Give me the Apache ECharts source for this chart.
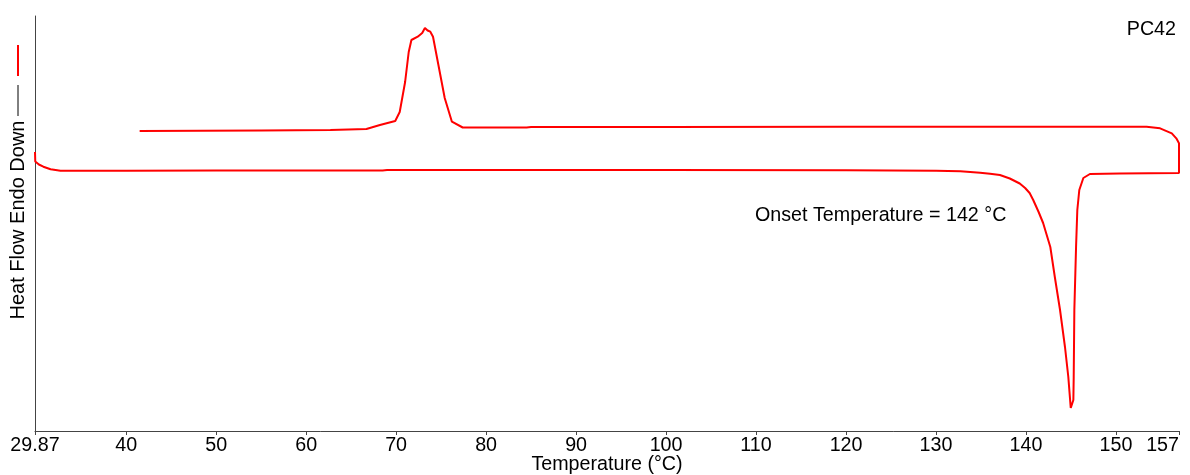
<!DOCTYPE html>
<html lang="en">

<head>
    <meta charset="UTF-8">
    <title>PC42 DSC</title>
    <script src="https://cdnjs.cloudflare.com/ajax/libs/echarts/6.0.0/echarts.min.js"></script>
    <style>
        body { margin: 0; background: #fff; }
    </style>
</head>

<body>
    <div id="main" style="width: 1190px;height:475px;"></div>

    <script type="text/javascript">
        // heating run (°C, heat flow, arbitrary units)
        const heatTemp = [29.87, 29.9, 30.3, 30.8, 31.6, 32.7, 40, 50, 60, 68.5, 69, 80, 100, 120, 130, 132.7, 134.9,
            136.0, 137.1, 138.2, 139.3, 139.9, 140.4, 140.8, 141.4, 141.9, 142.3, 142.7, 143.2, 143.78, 144.33, 144.7, 144.97, 145.08,
            145.26, 145.3, 145.37, 145.56, 145.7, 145.92, 146.37, 147.1, 150.4, 157.0];
        const heatFlow = [27.9, 26.95, 26.65, 26.43, 26.17, 26.03, 26.02, 26.04, 26.05, 26.06, 26.1, 26.1, 26.1, 26.07, 26.02, 25.98, 25.83,
            25.72, 25.6, 25.25, 24.75, 24.3, 23.8, 23.1, 21.9, 20.8, 19.6, 18.4, 15.4, 12.1, 8.4, 5.4, 2.3, 2.1,
            3.1, 5.4, 12.1, 18.4, 22.1, 24.1, 25.3, 25.7, 25.75, 25.8];

        // cooling run back down
        const coolTemp = [157.0, 156.7, 156.2, 154.9, 153.4, 140, 120, 100, 85, 84.5, 77.4, 76.2, 75.4, 74.7,
            74.1, 73.8, 73.5, 73.2, 72.9, 72.4, 71.7, 71.4, 71.0, 70.4, 69.9, 68.2, 66.7, 62.7, 55, 41.5];
        const coolFlow = [28.77, 29.27, 29.77, 30.27, 30.43, 30.43, 30.42, 30.4, 30.4, 30.36, 30.35, 30.93, 33.3, 36.6,
            39.43, 39.93, 40.05, 40.3, 39.8, 39.43, 39.1, 37.9, 34.9, 31.9, 31.0, 30.6, 30.2, 30.1, 30.05, 30.0];

        const xTicks = [29.87, 40, 50, 60, 70, 80, 90, 100, 110, 120, 130, 140, 150, 157];

        const myChart = echarts.init(document.getElementById('main'));

        const curve = [];
        heatTemp.forEach((t, i) => curve.push([t, heatFlow[i]]));
        coolTemp.forEach((t, i) => curve.push([t, coolFlow[i]]));

        const font = 'Liberation Sans, Arial, sans-serif';
        const fs = 19.7;
        const axisColor = '#444';

        var option = {
            animation: false,
            grid: { left: 35, right: 11, top: 16, bottom: 44, outerBoundsMode: 'none', containLabel: false },
            xAxis: {
                type: 'value',
                min: 29.87,
                max: 157,
                name: 'Temperature (°C)',
                nameLocation: 'middle',
                nameGap: 24,
                nameMoveOverlap: false,
                nameTextStyle: { color: '#000', fontSize: fs, fontFamily: font, verticalAlign: 'top' },
                axisLine: { lineStyle: { color: axisColor, width: 1 } },
                axisTick: { show: true, length: 4, lineStyle: { color: axisColor }, customValues: xTicks },
                axisLabel: {
                    color: '#000', fontSize: fs, fontFamily: font, margin: 5,
                    customValues: xTicks,
                    alignMaxLabel: 'right',
                    formatter: (v) => String(v)
                },
                splitLine: { show: false }
            },
            yAxis: {
                type: 'value',
                min: 0,
                max: 41.5,
                axisLine: { show: true, lineStyle: { color: axisColor, width: 1 } },
                axisTick: { show: false },
                axisLabel: { show: false },
                splitLine: { show: false }
            },
            series: [
                {
                    name: 'PC42',
                    type: 'line',
                    data: curve,
                    symbol: 'none',
                    clip: false,
                    lineStyle: { color: '#ff0000', width: 2 }
                }
            ],
            graphic: [
                {
                    type: 'text', right: 14, top: 20,
                    style: { text: 'PC42', fill: '#000', font: fs + 'px ' + font }
                },
                {
                    type: 'text', left: 755, top: 206,
                    style: { text: 'Onset Temperature = 142 °C', fill: '#000', font: fs + 'px ' + font }
                },
                {
                    type: 'text', x: 18, y: 220, rotation: Math.PI / 2,
                    style: {
                        text: 'Heat Flow Endo Down', fill: '#000', font: '20px ' + font,
                        align: 'center', verticalAlign: 'middle'
                    }
                },
                {
                    type: 'line', shape: { x1: 18, y1: 85, x2: 18, y2: 116 },
                    style: { stroke: '#000', lineWidth: 1 }
                },
                {
                    type: 'line', shape: { x1: 18, y1: 45, x2: 18, y2: 76 },
                    style: { stroke: '#ff0000', lineWidth: 2 }
                }
            ]
        };

        myChart.setOption(option);
    </script>
</body>

</html>
